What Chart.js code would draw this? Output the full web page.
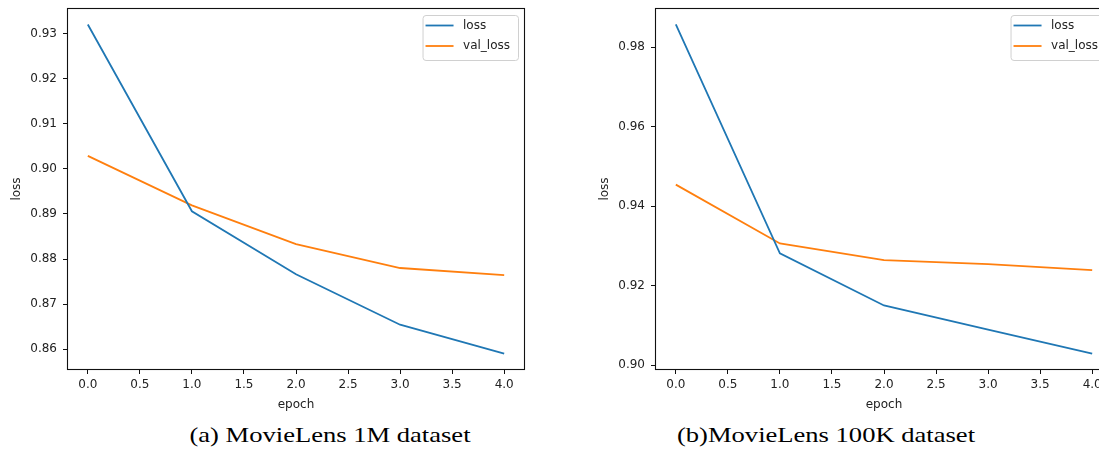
<!DOCTYPE html>
<html lang="en">
<head>
    <meta charset="UTF-8">
    <title>Loss curves - MovieLens</title>
    <script src="https://cdn.jsdelivr.net/npm/chart.js"></script>
    <style>
        body {
            margin: 0;
            background: #fff;
            width: 1099px;
            height: 455px;
            overflow: hidden;
            position: relative;
        }

        .panel {
            position: absolute;
            top: 0;
        }

        /* captions under each plot, serif like the paper */
        .caption {
            position: absolute;
            top: 425px;
            width: 400px;
            text-align: center;
            font-family: 'Liberation Serif', 'Times New Roman', serif;
            font-size: 21px;
            line-height: 21px;
            color: #000;
            white-space: nowrap;
            transform: scaleX(1.265);
        }
    </style>
</head>
<body>
    <canvas id="chart1M" class="panel" style="left:0" width="545" height="412"></canvas>
    <canvas id="chart100K" class="panel" style="left:588px" width="545" height="412"></canvas>

    <div class="caption" style="left:130px">(a) MovieLens 1M dataset</div>
    <div class="caption" style="left:626px">(b)MovieLens 100K dataset</div>

    <script>
        // values
        const epochs = [0, 1, 2, 3, 4];
        const loss1M = [0.9321, 0.8906, 0.8766, 0.8654, 0.8590];
        const valLoss1M = [0.9029, 0.8919, 0.8833, 0.8780, 0.8764];
        const loss100K = [0.9857, 0.9281, 0.9150, 0.9089, 0.9029];
        const valLoss100K = [0.9454, 0.9306, 0.9264, 0.9254, 0.9239];

        const xTicks = [0, 0.5, 1, 1.5, 2, 2.5, 3, 3.5, 4];
        const yTicks1M = [0.86, 0.87, 0.88, 0.89, 0.90, 0.91, 0.92, 0.93];
        const yTicks100K = [0.90, 0.92, 0.94, 0.96, 0.98];

        Chart.defaults.font.family = "'DejaVu Sans', sans-serif";
        Chart.defaults.font.size = 12;
        Chart.defaults.color = '#222';

        // axes frame + matplotlib style legend box in the upper right
        const frameAndLegend = {
            id: 'frameAndLegend',
            afterDraw(chart) {
                const { ctx, chartArea } = chart;
                ctx.save();
                ctx.strokeStyle = '#111';
                ctx.lineWidth = 1.1;
                ctx.strokeRect(chartArea.left + 0.5, chartArea.top + 0.5,
                    chartArea.right - chartArea.left - 1, chartArea.bottom - chartArea.top - 1);

                ctx.font = "12px 'DejaVu Sans'";
                const items = chart.data.datasets;
                const textW = Math.max(...items.map(d => ctx.measureText(d.label).width));
                const w = 40.5 + textW + 8;
                const h = 45;
                const x = chartArea.right - 7 - w;
                const y = chartArea.top + 7;
                ctx.beginPath();
                ctx.roundRect(x + 0.5, y + 0.5, w, h, 3);
                ctx.fillStyle = 'rgba(255,255,255,0.8)';
                ctx.fill();
                ctx.strokeStyle = '#d0d0d0';
                ctx.lineWidth = 1;
                ctx.stroke();

                items.forEach((d, i) => {
                    const cy = y + 10.5 + i * 20.5;
                    ctx.beginPath();
                    ctx.moveTo(x + 3, cy);
                    ctx.lineTo(x + 31, cy);
                    ctx.strokeStyle = d.borderColor;
                    ctx.lineWidth = 1.8;
                    ctx.stroke();
                    ctx.fillStyle = '#222';
                    ctx.textBaseline = 'middle';
                    ctx.fillText(d.label, x + 40.5, cy);
                });
                ctx.restore();
            }
        };

        function makeChart(id, loss, valLoss, yTicks) {
            // 5% margins like matplotlib autoscale
            const all = loss.concat(valLoss);
            const lo = Math.min(...all), hi = Math.max(...all);
            const pad = (hi - lo) * 0.05;

            new Chart(document.getElementById(id), {
                type: 'line',
                data: {
                    datasets: [
                        {
                            label: 'loss',
                            data: epochs.map((e, i) => ({ x: e, y: loss[i] })),
                            borderColor: '#1f77b4',
                            borderWidth: 1.8,
                            pointRadius: 0,
                            tension: 0
                        },
                        {
                            label: 'val_loss',
                            data: epochs.map((e, i) => ({ x: e, y: valLoss[i] })),
                            borderColor: '#ff7f0e',
                            borderWidth: 1.8,
                            pointRadius: 0,
                            tension: 0
                        }
                    ]
                },
                options: {
                    responsive: false,
                    animation: false,
                    layout: { padding: { left: 0, right: 20, top: 8, bottom: 0 } },
                    plugins: {
                        legend: { display: false },
                        tooltip: { enabled: false }
                    },
                    scales: {
                        x: {
                            type: 'linear',
                            min: -0.2,
                            max: 4.2,
                            afterBuildTicks: s => { s.ticks = xTicks.map(v => ({ value: v })); },
                            afterFit: s => { s.height = 42; s.paddingLeft = 0; s.paddingRight = 0; },
                            ticks: { padding: 4, callback: v => v.toFixed(1) },
                            grid: { drawOnChartArea: false, tickLength: 4, tickColor: '#111' },
                            border: { display: false },
                            title: { display: true, text: 'epoch', padding: { top: 0, bottom: 0 } }
                        },
                        y: {
                            type: 'linear',
                            min: lo - pad,
                            max: hi + pad,
                            afterBuildTicks: s => { s.ticks = yTicks.map(v => ({ value: v })); },
                            afterFit: s => { s.width = 67; s.paddingTop = 0; s.paddingBottom = 0; },
                            ticks: { padding: 6, callback: v => v.toFixed(2) },
                            grid: { drawOnChartArea: false, tickLength: 4, tickColor: '#111' },
                            border: { display: false },
                            title: { display: true, text: 'loss', padding: { top: 9.5, bottom: 0 } }
                        }
                    }
                },
                plugins: [frameAndLegend]
            });
        }

        makeChart('chart1M', loss1M, valLoss1M, yTicks1M);
        makeChart('chart100K', loss100K, valLoss100K, yTicks100K);
    </script>
</body>
</html>
